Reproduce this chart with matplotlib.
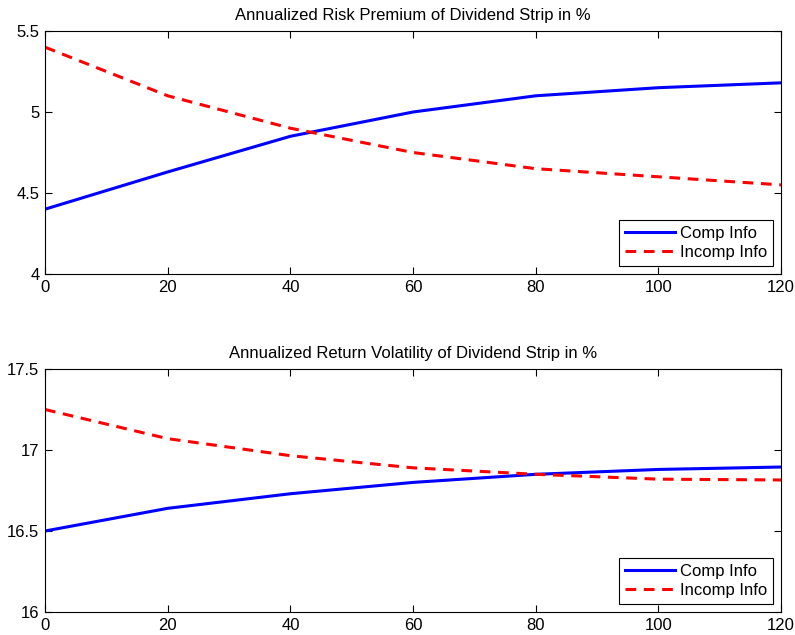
import matplotlib
matplotlib.use('Agg')
import matplotlib.pyplot as plt

# maturity grid and series
horizon = [0, 20, 40, 60, 80, 100, 120]

premium_comp = [4.40, 4.63, 4.85, 5.00, 5.10, 5.15, 5.18]
premium_incomp = [5.40, 5.10, 4.90, 4.75, 4.65, 4.60, 4.55]

vol_comp = [16.50, 16.64, 16.73, 16.80, 16.85, 16.88, 16.895]
vol_incomp = [17.25, 17.07, 16.965, 16.89, 16.85, 16.82, 16.815]

titles = ['Annualized Risk Premium of Dividend Strip in %',
          'Annualized Return Volatility of Dividend Strip in %']
ylims = [(4, 5.5), (16, 17.5)]
yticks = [[4, 4.5, 5, 5.5], [16, 16.5, 17, 17.5]]
ylabels = [['4', '4.5', '5', '5.5'], ['16', '16.5', '17', '17.5']]

plt.rcParams['font.family'] = ['Liberation Sans', 'DejaVu Sans']
plt.rcParams['font.size'] = 12

fig = plt.figure(figsize=(7.95, 6.35), dpi=100)
ax1 = fig.add_axes([0.0566, 0.5685, 0.926, 0.3827])
ax2 = fig.add_axes([0.0566, 0.0362, 0.926, 0.3827])

series = [(premium_comp, premium_incomp), (vol_comp, vol_incomp)]

for i, ax in enumerate([ax1, ax2]):
    comp, incomp = series[i]
    ax.plot(horizon, comp, color='blue', lw=2.2, label='Comp Info')
    ax.plot(horizon, incomp, color='red', lw=2.2, ls=(0, (3.5, 2.5)), label='Incomp Info')
    ax.set_xlim(0, 120)
    ax.set_ylim(*ylims[i])
    ax.set_xticks([0, 20, 40, 60, 80, 100, 120])
    ax.set_yticks(yticks[i])
    ax.set_yticklabels(ylabels[i])
    ax.tick_params(direction='in', top=True, right=True, length=5, labelsize=12, pad=4)
    for s in ax.spines.values():
        s.set_linewidth(0.8)
    ax.set_title(titles[i], fontsize=12, pad=8)
    leg = ax.legend(loc='lower right', fancybox=False, framealpha=1,
                    edgecolor='black', fontsize=12, handlelength=3,
                    handletextpad=0.3, labelspacing=0.25, borderpad=0.35,
                    borderaxespad=0.5)
    leg.get_frame().set_linewidth(0.8)

fig.savefig('out.png', dpi=100)
